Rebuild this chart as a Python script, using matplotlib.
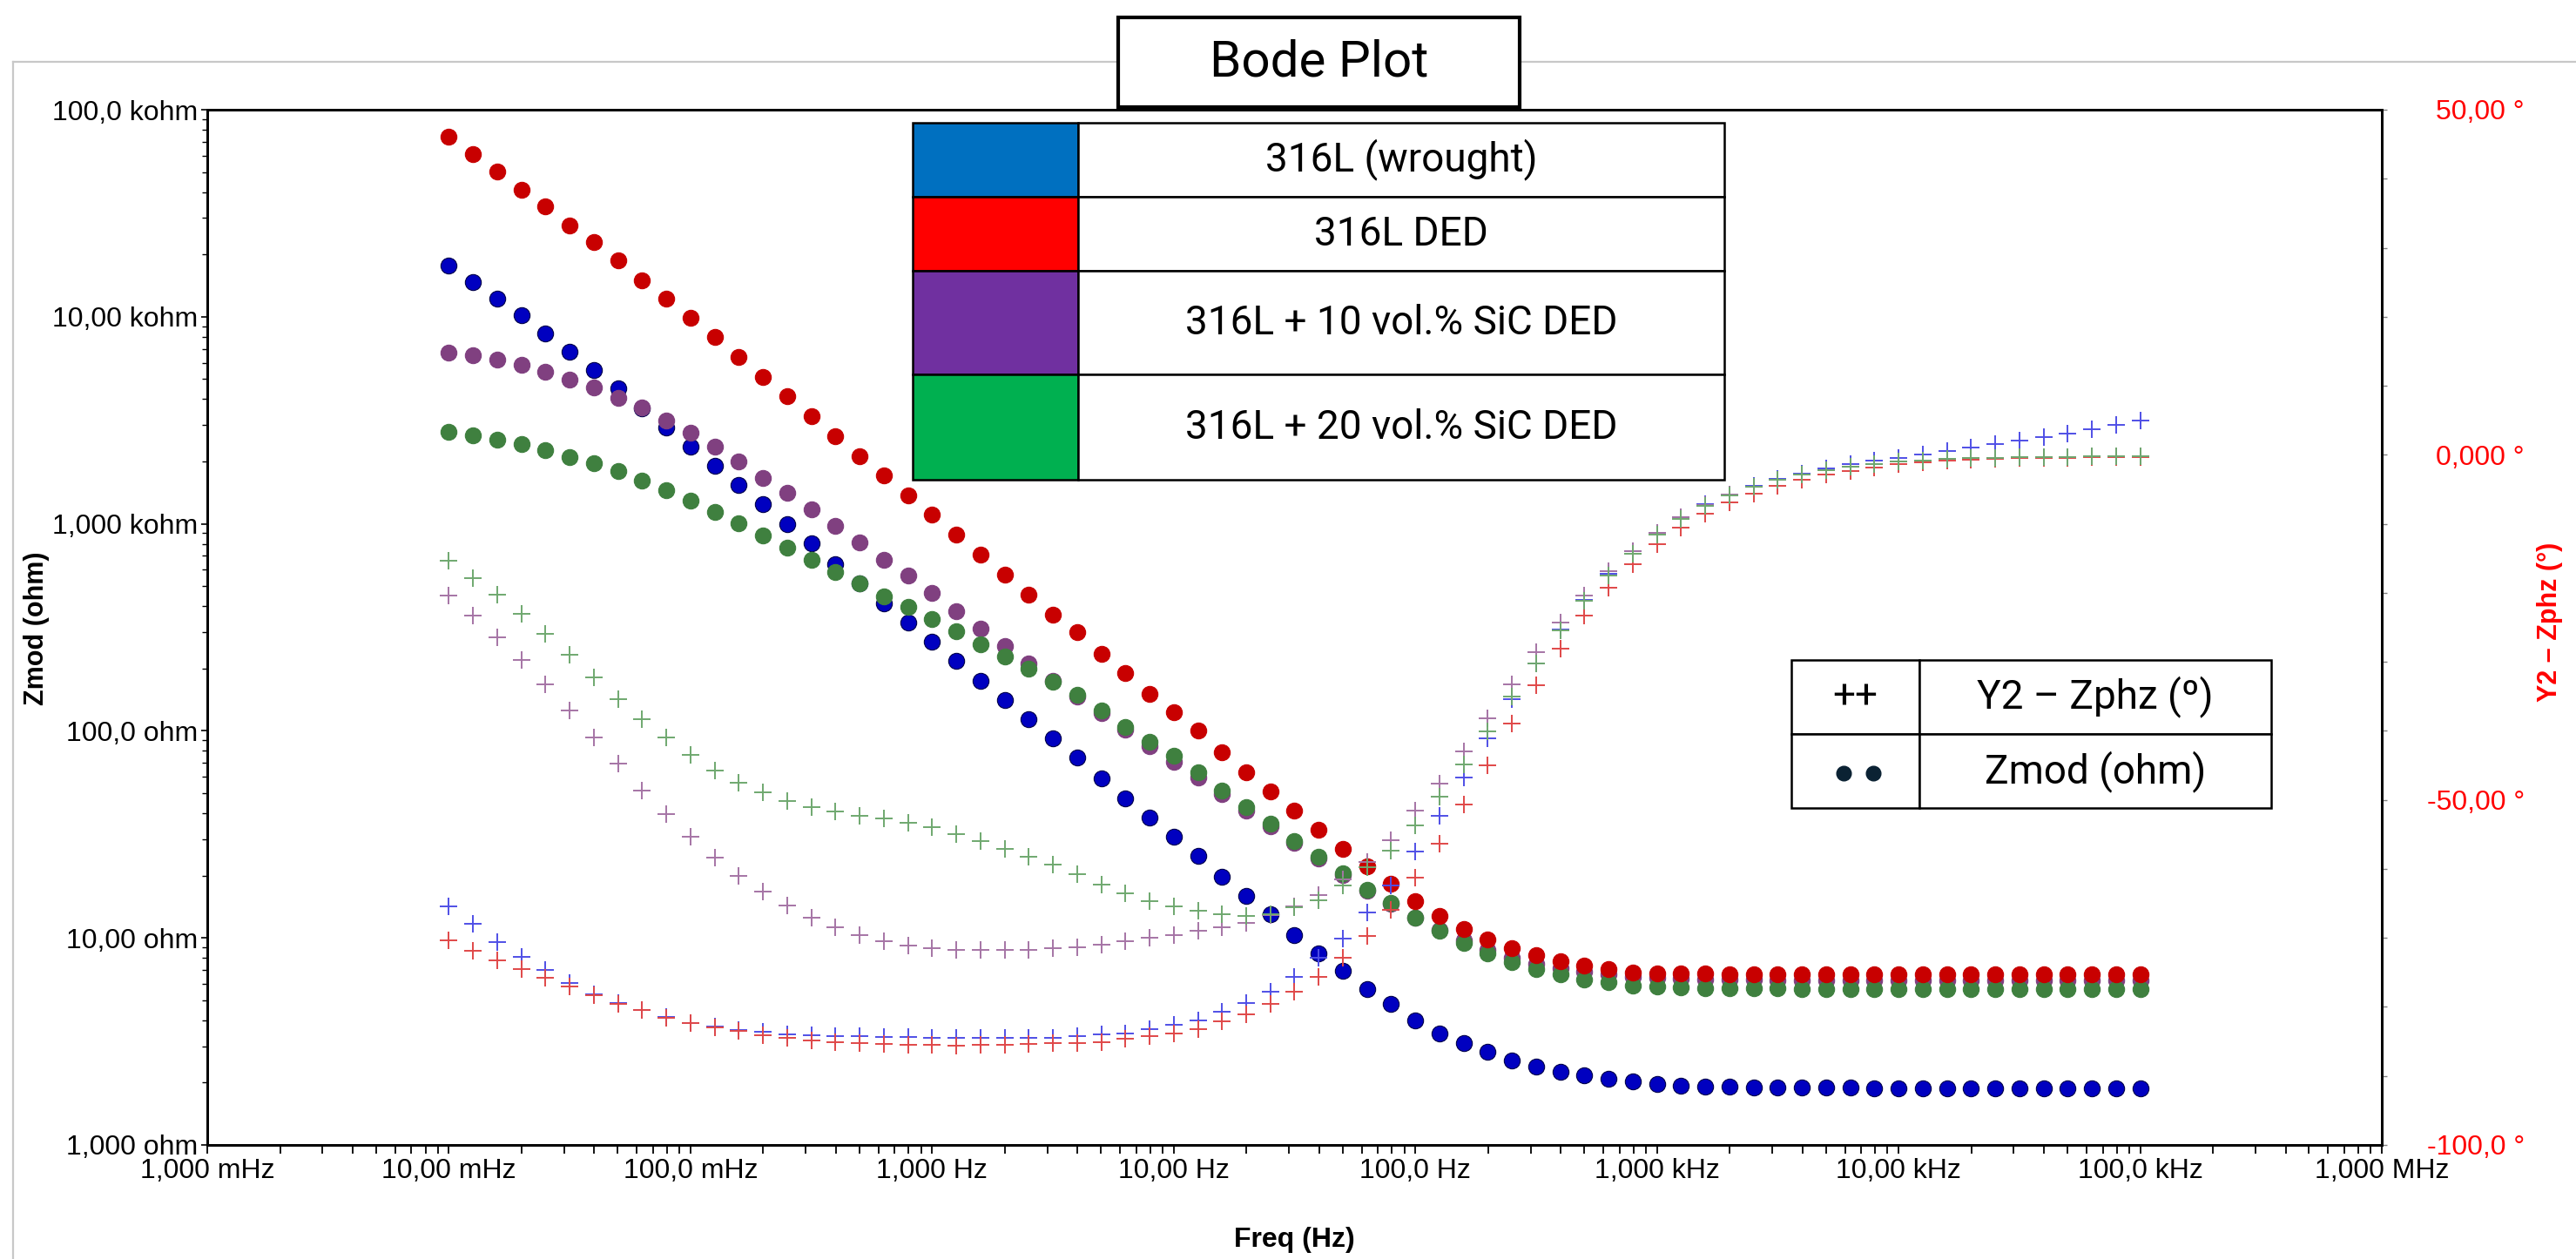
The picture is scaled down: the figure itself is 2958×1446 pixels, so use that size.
import matplotlib
matplotlib.use("Agg")
import matplotlib.pyplot as plt
from matplotlib.patches import Rectangle
from matplotlib.lines import Line2D

# ---------------- data ----------------
freq_hz = [0.01, 0.01259, 0.01585, 0.01995, 0.02512, 0.03162, 0.03981, 0.05012, 0.0631, 0.07943,
           0.1, 0.1259, 0.1585, 0.1995, 0.2512, 0.3162, 0.3981, 0.5012, 0.631, 0.7943,
           1.0, 1.259, 1.585, 1.995, 2.512, 3.162, 3.981, 5.012, 6.31, 7.943,
           10.0, 12.59, 15.85, 19.95, 25.12, 31.62, 39.81, 50.12, 63.1, 79.43,
           100.0, 125.9, 158.5, 199.5, 251.2, 316.2, 398.1, 501.2, 631.0, 794.3,
           1000.0, 1259.0, 1585.0, 1995.0, 2512.0, 3162.0, 3981.0, 5012.0, 6310.0, 7943.0,
           10000.0, 12589.0, 15849.0, 19953.0, 25119.0, 31623.0, 39811.0, 50119.0, 63096.0, 79433.0,
           100000.0]

zmod_wrought = [17700, 14760, 12220, 10190, 8320, 6780, 5510, 4500, 3610, 2910,
                2350, 1897, 1535, 1239, 995, 802, 641, 514, 413, 333,
                269, 217, 175, 141, 114, 91.8, 74.0, 58.9, 47.3, 38.1,
                30.8, 24.8, 19.8, 15.9, 13.0, 10.3, 8.41, 6.93, 5.66, 4.79,
                4.01, 3.47, 3.10, 2.82, 2.57, 2.40, 2.26, 2.16, 2.09, 2.02,
                1.97, 1.94, 1.92, 1.91, 1.90, 1.90, 1.89, 1.89, 1.89, 1.88,
                1.88, 1.88, 1.88, 1.88, 1.87, 1.87, 1.87, 1.87, 1.87, 1.87, 1.87]
zmod_ded = [73800, 60800, 50100, 41200, 34000, 27700, 22900, 18700, 15000, 12270,
            9890, 7980, 6410, 5120, 4130, 3320, 2640, 2130, 1720, 1377,
            1104, 885, 710, 569, 455, 364, 300, 236, 191, 151,
            123, 100, 78.9, 63.2, 50.8, 41.2, 33.2, 26.9, 22.2, 18.3,
            15.0, 12.8, 11.07, 9.79, 8.89, 8.22, 7.71, 7.33, 7.05, 6.82,
            6.76, 6.72, 6.71, 6.70, 6.70, 6.69, 6.69, 6.68, 6.68, 6.68,
            6.67, 6.67, 6.67, 6.66, 6.66, 6.66, 6.66, 6.65, 6.65, 6.65, 6.65]
zmod_sic10 = [6710, 6500, 6190, 5860, 5430, 4990, 4540, 4060, 3630, 3160,
              2750, 2350, 1991, 1671, 1409, 1175, 975, 811, 671, 560,
              462, 380, 313, 257, 211, 174, 146, 122, 101, 84.1,
              71.1, 59.6, 49.3, 41.2, 34.5, 28.7, 24.2, 20.1, 16.9, 14.6,
              12.5, 10.9, 9.73, 8.79, 8.04, 7.50, 7.11, 6.84, 6.64, 6.49,
              6.40, 6.33, 6.30, 6.28, 6.27, 6.26, 6.25, 6.25, 6.24, 6.24,
              6.24, 6.23, 6.23, 6.23, 6.23, 6.22, 6.22, 6.22, 6.22, 6.22, 6.22]
zmod_sic20 = [2773, 2673, 2559, 2421, 2265, 2109, 1954, 1799, 1622, 1449,
              1294, 1143, 1005, 879, 767, 668, 585, 514, 445, 398,
              347, 302, 263, 229, 199, 172, 149, 125, 104.5, 88.7,
              75.5, 63.2, 51.3, 43.0, 35.6, 29.4, 24.7, 20.5, 17.1, 14.7,
              12.5, 10.8, 9.48, 8.41, 7.64, 7.05, 6.65, 6.30, 6.10, 5.90,
              5.81, 5.76, 5.73, 5.71, 5.70, 5.69, 5.68, 5.68, 5.67, 5.67,
              5.67, 5.66, 5.66, 5.66, 5.66, 5.65, 5.65, 5.65, 5.65, 5.65, 5.65]

phase_wrought = [-65.4, -67.9, -70.55, -72.8, -74.6, -76.5, -78.2, -79.4, -80.5, -81.5,
                 -82.3, -82.8, -83.3, -83.6, -83.95, -84.1, -84.2, -84.2, -84.35, -84.4,
                 -84.45, -84.5, -84.5, -84.5, -84.5, -84.44, -84.23, -84.02, -83.81, -83.18,
                 -82.63, -81.91, -80.65, -79.39, -77.83, -75.6, -72.87, -70.14, -66.35, -62.36,
                 -57.52, -52.35, -46.72, -41.12, -35.36, -30.19, -25.27, -21.0, -17.3, -14.0,
                 -11.3, -9.0, -7.2, -5.7, -4.5, -3.5, -2.7, -2.0, -1.4, -0.9,
                 -0.4, 0.0, 0.5, 1.0, 1.5, 2.0, 2.6, 3.1, 3.7, 4.3, 5.0]
phase_ded = [-70.3, -71.9, -73.25, -74.55, -75.75, -77.0, -78.3, -79.5, -80.5, -81.55,
             -82.3, -83.0, -83.5, -84.1, -84.45, -84.8, -85.1, -85.3, -85.4, -85.5,
             -85.55, -85.6, -85.55, -85.5, -85.4, -85.28, -85.2, -85.07, -84.65, -84.23,
             -83.89, -83.18, -82.12, -81.07, -79.6, -77.83, -75.6, -72.87, -69.72, -65.93,
             -61.31, -56.39, -50.67, -45.03, -38.89, -33.43, -28.09, -23.34, -19.3, -15.8,
             -12.9, -10.5, -8.5, -6.9, -5.6, -4.5, -3.6, -2.9, -2.3, -1.8,
             -1.4, -1.1, -0.9, -0.7, -0.6, -0.5, -0.45, -0.4, -0.35, -0.3, -0.3]
phase_sic10 = [-20.35, -23.3, -26.4, -29.75, -33.3, -37.1, -41.0, -44.7, -48.6, -52.1,
               -55.4, -58.4, -61.0, -63.35, -65.3, -67.05, -68.4, -69.6, -70.45, -71.1,
               -71.5, -71.7, -71.8, -71.8, -71.7, -71.5, -71.3, -71.0, -70.5, -70.0,
               -69.6, -69.0, -68.5, -67.8, -66.7, -65.4, -63.8, -61.5, -59.0, -55.8,
               -51.6, -47.6, -43.0, -38.2, -33.3, -28.6, -24.3, -20.4, -16.9, -13.9,
               -11.3, -9.1, -7.3, -5.8, -4.6, -3.6, -2.8, -2.2, -1.7, -1.3,
               -1.0, -0.8, -0.6, -0.5, -0.4, -0.35, -0.3, -0.3, -0.25, -0.2, -0.2]
phase_sic20 = [-15.3, -17.9, -20.3, -23.1, -25.9, -29.0, -32.3, -35.35, -38.35, -41.0,
               -43.5, -45.8, -47.5, -48.95, -50.15, -51.0, -51.7, -52.25, -52.7, -53.3,
               -54.0, -54.9, -56.0, -57.1, -58.3, -59.4, -60.8, -62.3, -63.6, -64.7,
               -65.4, -66.1, -66.6, -66.8, -66.6, -65.5, -64.5, -62.4, -59.8, -57.3,
               -53.7, -49.5, -44.9, -40.1, -35.0, -30.2, -25.4, -21.2, -17.5, -14.3,
               -11.6, -9.3, -7.4, -5.9, -4.6, -3.6, -2.8, -2.2, -1.7, -1.3,
               -1.0, -0.8, -0.6, -0.5, -0.4, -0.35, -0.3, -0.3, -0.25, -0.2, -0.2]

x_ticks = [1e-3, 1e-2, 1e-1, 1e0, 1e1, 1e2, 1e3, 1e4, 1e5, 1e6]
x_ticklabels = ["1,000 mHz", "10,00 mHz", "100,0 mHz", "1,000 Hz", "10,00 Hz",
                "100,0 Hz", "1,000 kHz", "10,00 kHz", "100,0 kHz", "1,000 MHz"]
y_ticks = [1, 10, 100, 1e3, 1e4, 1e5]
y_ticklabels = ["1,000 ohm", "10,00 ohm", "100,0 ohm", "1,000 kohm", "10,00 kohm", "100,0 kohm"]
y2_ticks = [-100, -50, 0, 50]
y2_ticklabels = ["-100,0 \u00b0", "-50,00 \u00b0", "0,000 \u00b0", "50,00 \u00b0"]

legend_labels = ["316L (wrought)", "316L DED", "316L + 10 vol.% SiC DED", "316L + 20 vol.% SiC DED"]
legend_colors = ["#0070C0", "#FF0000", "#7030A0", "#00B050"]

# ---------------- figure ----------------
W, H = 2958, 1446
fig = plt.figure(figsize=(W / 100, H / 100), dpi=100)
plt.rcParams['font.family'] = ['Liberation Sans', 'DejaVu Sans']

def fx(px):
    return px / W

def fy(py):
    return 1 - py / H

L, R, T, B = 238, 2735, 126, 1315
ax = fig.add_axes([fx(L), fy(B), fx(R) - fx(L), fy(T) - fy(B)])
ax2 = ax.twinx()

dot_style = dict(ls='none', marker='o', ms=13.2)
series = [
    (zmod_wrought, phase_wrought, '#0000C0', '#00004A', '#4F4FE6'),
    (zmod_sic10, phase_sic10, '#804080', '#804080', '#A574A5'),
    (zmod_sic20, phase_sic20, '#3F803F', '#3F803F', '#6FA86F'),
    (zmod_ded, phase_ded, '#C80000', '#C80000', '#E04848'),
]
for z, ph, c, ec, cc in series:
    ax.plot(freq_hz, z, color=c, mec=ec, mew=0.8, **dot_style)
order_cross = [series[0], series[3], series[1], series[2]]
for z, ph, c, ec, cc in order_cross:
    ax2.plot(freq_hz, ph, ls='none', marker='+', ms=14, mew=1.4, color=cc)

ax.set_xscale('log')
ax.set_yscale('log')
ax.set_xlim(1e-3, 1e6)
ax.set_ylim(1, 1e5)
ax2.set_ylim(-100, 50)

ax.set_xticks(x_ticks)
ax.set_xticklabels(x_ticklabels)
ax.set_yticks(y_ticks)
ax.set_yticklabels(y_ticklabels)
ax2.set_yticks(y2_ticks)
ax2.set_yticklabels(y2_ticklabels)
ax2.set_yticks(range(-100, 51, 10), minor=True)

ax.tick_params(axis='both', which='both', direction='out', labelsize=23, colors='black')
ax.tick_params(axis='x', which='major', length=7, width=1.3, pad=4)
ax.tick_params(axis='x', which='minor', length=7, width=1.3)
ax.tick_params(axis='y', which='major', length=5, width=1.2, pad=3)
ax.tick_params(axis='y', which='minor', length=4, width=1.0)
ax2.tick_params(axis='y', which='major', length=4, width=1.0, color='#808080',
                labelsize=23, labelcolor='#FF0000', pad=114)
ax2.tick_params(axis='y', which='minor', length=4, width=1.0, color='#808080')
for lab in ax2.get_yticklabels():
    lab.set_horizontalalignment('right')

for a in (ax, ax2):
    for s in a.spines.values():
        s.set_linewidth(2.0)
        s.set_color('black')

ax.set_xlabel("Freq (Hz)", fontsize=23, fontweight='bold')
ax.xaxis.set_label_coords(0.5, -(1424 - B) / (B - T))
ax.xaxis.label.set_va('center')
ax.set_ylabel("Zmod (ohm)", fontsize=22, fontweight='bold')
ax.yaxis.set_label_coords((42 - L) / (R - L), (B - 722) / (B - T))
ax.yaxis.label.set_va('center')
ax2.set_ylabel("Y2 \u2013 Zphz (\u00b0)", fontsize=22, fontweight='bold', color='#FF0000', rotation=90)
ax2.yaxis.set_label_coords((2928 - L) / (R - L), (B - 714) / (B - T))
ax2.yaxis.label.set_va('center')
ax2.yaxis.label.set_ha('center')

# ---------------- decorations ----------------
gray = '#C8C8C8'
fig.add_artist(Line2D([fx(15), 1.0], [fy(71), fy(71)], color=gray, lw=1.6, zorder=1))
fig.add_artist(Line2D([fx(15), fx(15)], [fy(71), 0.0], color=gray, lw=1.6, zorder=1))

# title box
fig.add_artist(Rectangle((fx(1284), fy(123)), fx(1745) - fx(1284), fy(20) - fy(123),
                         facecolor='white', edgecolor='black', lw=3, zorder=5))
fig.text(fx(1515), fy(72), "Bode Plot", ha='center', va='center', fontsize=42,
         family=['Roboto', 'DejaVu Sans'], zorder=6)

# legend table 1
tx0, tdiv, tx1 = 1048, 1238, 1980
rows = [141, 226, 311, 430, 551]
for i, (lab, col) in enumerate(zip(legend_labels, legend_colors)):
    y0, y1 = rows[i], rows[i + 1]
    fig.add_artist(Rectangle((fx(tx0), fy(y1)), fx(tdiv) - fx(tx0), fy(y0) - fy(y1),
                             facecolor=col, edgecolor='black', lw=1.8, zorder=5))
    fig.add_artist(Rectangle((fx(tdiv), fy(y1)), fx(tx1) - fx(tdiv), fy(y0) - fy(y1),
                             facecolor='white', edgecolor='black', lw=1.8, zorder=5))
    fig.text(fx((tdiv + tx1) / 2), fy((y0 + y1) / 2), lab, ha='center', va='center',
             fontsize=33, family=['Roboto', 'DejaVu Sans'], zorder=6)

# legend table 2
ux0, udiv, ux1 = 2057, 2204, 2608
urows = [758, 843, 928]
for i in range(2):
    y0, y1 = urows[i], urows[i + 1]
    for a0, a1 in ((ux0, udiv), (udiv, ux1)):
        fig.add_artist(Rectangle((fx(a0), fy(y1)), fx(a1) - fx(a0), fy(y0) - fy(y1),
                                 facecolor='white', edgecolor='black', lw=1.8, zorder=5))
fig.text(fx((ux0 + udiv) / 2), fy(800), "++", ha='center', va='center', fontsize=33,
         family=['Roboto', 'DejaVu Sans'], zorder=6)
fig.add_artist(Line2D([fx(2117), fx(2151)], [fy(888), fy(888)], ls='none', marker='o',
                      ms=12, color='#0B2233', zorder=6))
fig.text(fx((udiv + ux1) / 2), fy(800), "Y2 \u2013 Zphz (\u00ba)", ha='center', va='center',
         fontsize=33, family=['Roboto', 'DejaVu Sans'], zorder=6)
fig.text(fx((udiv + ux1) / 2), fy(886), "Zmod (ohm)", ha='center', va='center',
         fontsize=33, family=['Roboto', 'DejaVu Sans'], zorder=6)

fig.savefig("out.png", dpi=100)
